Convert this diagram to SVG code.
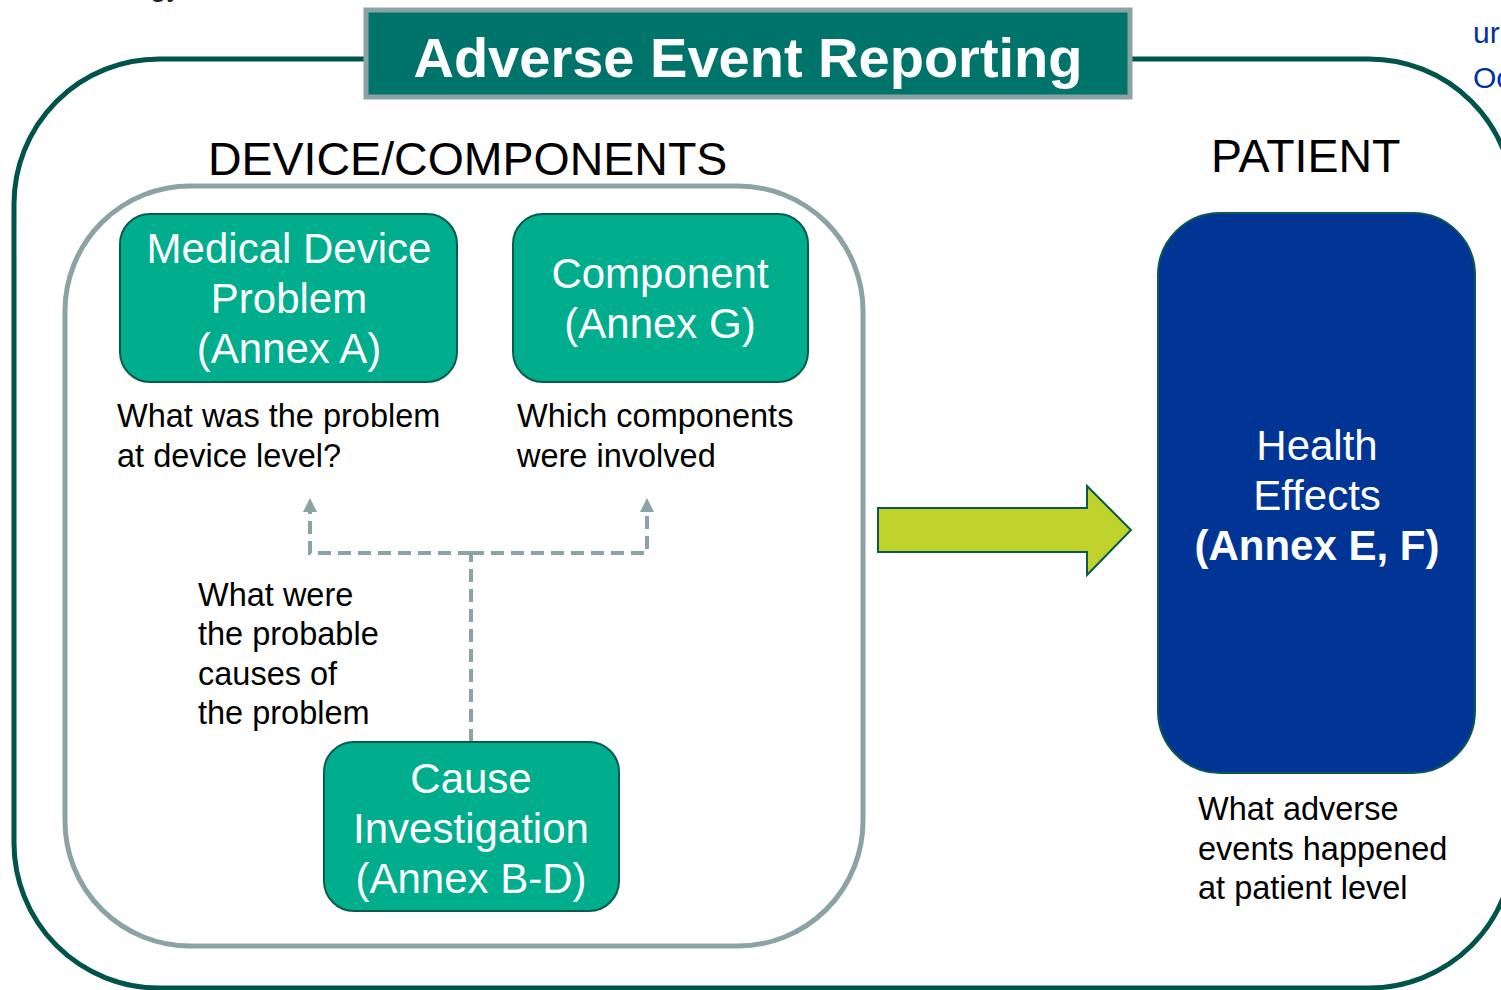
<svg xmlns="http://www.w3.org/2000/svg" width="1501" height="990" viewBox="0 0 1501 990">
  <style>
    .sans { font-family: "Liberation Sans", Arial, sans-serif; }
    .node { fill: #00AD8C; stroke: #0B5A50; stroke-width: 2; }
    .ntext { font-family: "Liberation Sans", Arial, sans-serif; font-size: 42px; fill: #ffffff; text-anchor: middle; }
    .desc { font-family: "Liberation Sans", Arial, sans-serif; font-size: 32.5px; fill: #000000; }
    .head { font-family: "Liberation Sans", Arial, sans-serif; font-size: 46.5px; fill: #000000; }
    .dash { fill: none; stroke: #8BA3A5; stroke-width: 4; stroke-dasharray: 13 7; }
  </style>
  <defs>
    <marker id="ah" viewBox="0 0 10 10" refX="0" refY="5" markerWidth="14" markerHeight="14" markerUnits="userSpaceOnUse" orient="auto">
      <path d="M0,0 L10,5 L0,10 Z" fill="#8BA3A5"/>
    </marker>
  </defs>
  <rect width="1501" height="990" fill="#ffffff"/>

  <!-- partial texts at edges -->
  <text class="sans" x="150" y="-4" font-size="30" fill="#222">gy</text>
  <text class="sans" x="1473" y="43" font-size="30" fill="#0033A0">ur</text>
  <text class="sans" x="1473" y="88" font-size="30" fill="#0033A0">Oc</text>

  <!-- outer frame -->
  <rect id="outer-frame" x="14" y="59" width="1500" height="929" rx="145" ry="145" fill="none" stroke="#00544C" stroke-width="5"/>

  <!-- title -->
  <g id="title">
    <rect x="366" y="10" width="764" height="87" fill="#00746A" stroke="#8BA3A5" stroke-width="5"/>
    <text class="sans" x="748" y="77" font-size="56" font-weight="bold" fill="#ffffff" text-anchor="middle">Adverse Event Reporting</text>
  </g>

  <!-- section headings -->
  <text class="head" x="208" y="175">DEVICE/COMPONENTS</text>
  <text class="head" x="1211" y="172" font-size="47.5">PATIENT</text>

  <!-- inner device frame -->
  <rect id="device-frame" x="65" y="186" width="798" height="760" rx="125" ry="125" fill="none" stroke="#8BA3A5" stroke-width="5"/>

  <!-- connectors -->
  <g id="connectors">
    <path class="dash" d="M471,742 L471,553"/>
    <path class="dash" d="M471,553 L310,553 L310,512" marker-end="url(#ah)"/>
    <path class="dash" d="M471,553 L647,553 L647,512" marker-end="url(#ah)"/>
    <path d="M878,508 L1087,508 L1087,486 L1131,530 L1087,575 L1087,552 L878,552 Z" fill="#C0D22C" stroke="#0B5A50" stroke-width="2"/>
  </g>

  <g id="medical-device-problem">
    <rect class="node" x="120" y="214" width="337" height="168" rx="30" ry="30"/>
    <text class="ntext" x="289" y="263">Medical Device</text>
    <text class="ntext" x="289" y="313">Problem</text>
    <text class="ntext" x="289" y="363">(Annex A)</text>
    <text class="desc" x="117" y="427">What was the problem</text>
    <text class="desc" x="117" y="467">at device level?</text>
  </g>

  <g id="component">
    <rect class="node" x="513" y="214" width="295" height="168" rx="30" ry="30"/>
    <text class="ntext" x="660" y="288">Component</text>
    <text class="ntext" x="660" y="338">(Annex G)</text>
    <text class="desc" x="517" y="427">Which components</text>
    <text class="desc" x="517" y="467">were involved</text>
  </g>

  <g id="cause-investigation">
    <text class="desc" x="198" y="606">What were</text>
    <text class="desc" x="198" y="645">the probable</text>
    <text class="desc" x="198" y="685">causes of</text>
    <text class="desc" x="198" y="724">the problem</text>
    <rect class="node" x="324" y="742" width="295" height="169" rx="30" ry="30"/>
    <text class="ntext" x="471" y="793">Cause</text>
    <text class="ntext" x="471" y="843">Investigation</text>
    <text class="ntext" x="471" y="893">(Annex B-D)</text>
  </g>

  <g id="health-effects">
    <rect x="1158" y="213" width="317" height="560" rx="62" ry="62" fill="#003595" stroke="#0B5A50" stroke-width="2"/>
    <text class="ntext" x="1317" y="460">Health</text>
    <text class="ntext" x="1317" y="510">Effects</text>
    <text class="ntext" x="1317" y="560" font-weight="bold">(Annex E, F)</text>
    <text class="desc" x="1198" y="820">What adverse</text>
    <text class="desc" x="1198" y="860">events happened</text>
    <text class="desc" x="1198" y="899">at patient level</text>
  </g>
</svg>
